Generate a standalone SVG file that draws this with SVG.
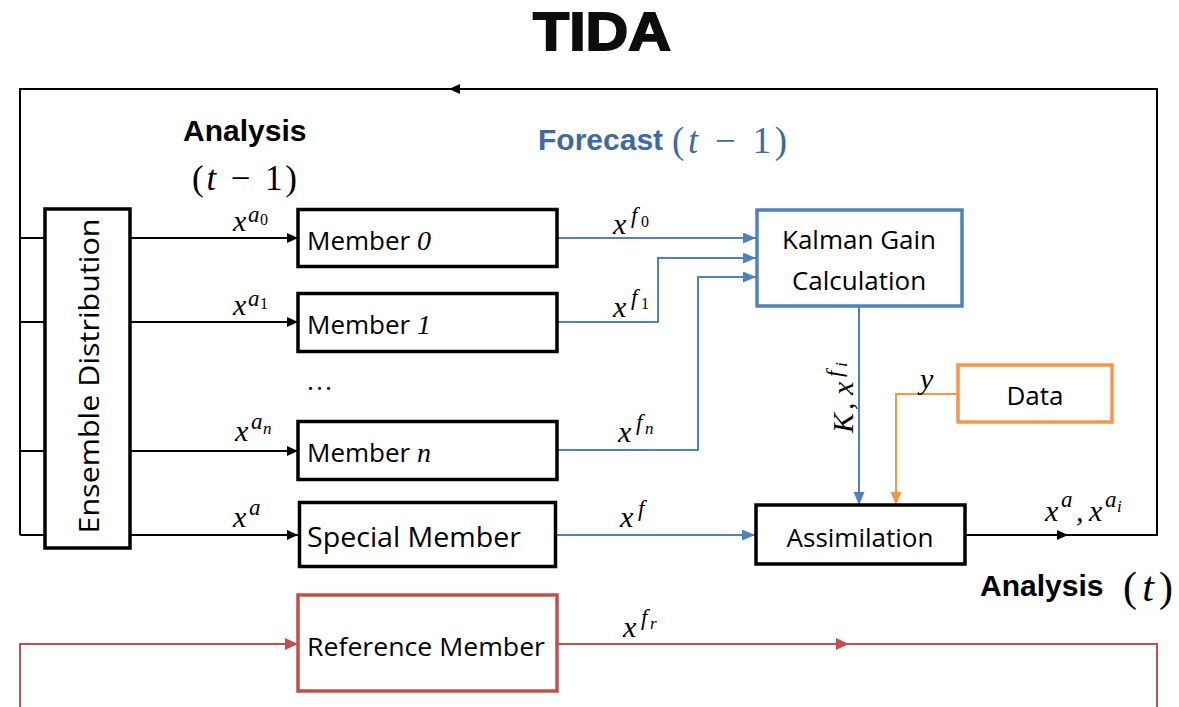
<svg xmlns="http://www.w3.org/2000/svg" width="1179" height="707" viewBox="0 0 1179 707">
<defs>
<style>
.lbl{font-family:"Open Sans","Noto Sans",sans-serif;font-size:26px;fill:#000}
.hd{font-family:"Liberation Sans",Arial,sans-serif;font-weight:bold;font-size:30px;fill:#000}
.m{font-family:"Liberation Serif","Times New Roman",serif;font-style:italic;font-size:30px;fill:#000}
.sup{font-size:23px}
.sub{font-size:16px;font-style:normal}
.subi{font-size:17px}
.box{fill:#fff;stroke:#000;stroke-width:3.5}
.k{fill:none;stroke:#000;stroke-width:2}
.b{fill:none;stroke:#4F81BD;stroke-width:2}
.o{fill:none;stroke:#F79646;stroke-width:2}
.r{fill:none;stroke:#C0504D;stroke-width:2}
</style>
<marker id="ak" markerUnits="userSpaceOnUse" markerWidth="12" markerHeight="12" refX="11" refY="5" orient="auto"><path d="M0,0 L11,5 L0,10 z" fill="#000"/></marker>
<marker id="ab" markerUnits="userSpaceOnUse" markerWidth="14" markerHeight="12" refX="13" refY="5.5" orient="auto"><path d="M0,0 L13,5.5 L0,11 z" fill="#4F81BD"/></marker>
<marker id="ao" markerUnits="userSpaceOnUse" markerWidth="14" markerHeight="12" refX="13" refY="5.5" orient="auto"><path d="M0,0 L13,5.5 L0,11 z" fill="#F79646"/></marker>
<marker id="ar" markerUnits="userSpaceOnUse" markerWidth="14" markerHeight="12" refX="13" refY="6" orient="auto"><path d="M0,0 L13,6 L0,12 z" fill="#C0504D"/></marker>
</defs>
<rect width="1179" height="707" fill="#fff"/>

<text x="602" y="50" text-anchor="middle" textLength="138" lengthAdjust="spacingAndGlyphs" style="font-family:'Liberation Sans',Arial,sans-serif;font-weight:bold;font-size:54px;fill:#0d0d0d;stroke:#0d0d0d;stroke-width:1.8">TIDA</text>

<g id="connectors">
  <!-- feedback loop -->
  <path class="k" d="M966,535 H1068" marker-end="url(#ak)" stroke-width="2.5"/>
  <path class="k" d="M1068,535 H1157 V89 H449" marker-end="url(#ak)" stroke-width="2.5"/>
  <path class="k" d="M449,89 H20 V535" stroke-width="2.5"/>
  <path class="k" d="M20,238 H45 M20,322 H45 M20,451 H45 M20,535 H45"/>
  <!-- ensemble to members -->
  <path class="k" d="M130,238 H298" marker-end="url(#ak)"/>
  <path class="k" d="M130,322 H298" marker-end="url(#ak)"/>
  <path class="k" d="M130,451 H298" marker-end="url(#ak)"/>
  <path class="k" d="M130,535 H298" marker-end="url(#ak)"/>
  <!-- members to Kalman -->
  <path class="b" d="M557,238 H756" marker-end="url(#ab)"/>
  <path class="b" d="M557,322 H658 V258 H756" marker-end="url(#ab)"/>
  <path class="b" d="M557,450 H698 V277 H756" marker-end="url(#ab)"/>
  <path class="b" d="M557,535 H755" marker-end="url(#ab)"/>
  <path class="b" d="M859,307 V505" marker-end="url(#ab)"/>
  <!-- data -->
  <path class="o" d="M957,394 H896 V505" marker-end="url(#ao)"/>
  <!-- reference -->
  <path class="r" d="M20,707 V644 H298" marker-end="url(#ar)"/>
  <path class="r" d="M557,644 H849" marker-end="url(#ar)"/>
  <path class="r" d="M849,644 H1157 V707"/>

  <!-- connector labels -->
  <text class="m" x="233" y="231">x<tspan class="sup" x="248" y="222">a</tspan><tspan class="sub" x="260" y="225">0</tspan></text>
  <text class="m" x="233" y="315">x<tspan class="sup" x="248" y="306">a</tspan><tspan class="sub" x="260" y="309">1</tspan></text>
  <text class="m" x="235" y="441">x<tspan class="sup" x="251" y="429">a</tspan><tspan class="subi" x="263" y="434">n</tspan></text>
  <text class="m" x="233" y="527">x<tspan class="sup" x="249" y="515">a</tspan></text>

  <text class="m" x="613" y="234">x<tspan class="sup" x="631" y="223">f</tspan><tspan class="sub" x="641" y="227">0</tspan></text>
  <text class="m" x="613" y="317">x<tspan class="sup" x="631" y="305">f</tspan><tspan class="sub" x="641" y="309">1</tspan></text>
  <text class="m" x="618" y="442">x<tspan class="sup" x="636" y="430">f</tspan><tspan class="subi" x="645" y="434">n</tspan></text>
  <text class="m" x="620" y="527">x<tspan class="sup" x="638" y="516">f</tspan></text>
  <text class="m" x="623" y="637">x<tspan class="sup" x="641" y="625">f</tspan><tspan class="subi" x="650" y="629">r</tspan></text>

  <text class="m" transform="translate(853,433) rotate(-90)" x="0" y="0">K<tspan x="23">,</tspan><tspan x="38">x</tspan><tspan class="sup" x="56" y="-11">f</tspan><tspan class="subi" x="66" y="-6">i</tspan></text>
  <text class="m" x="920" y="389">y</text>

  <text class="m" x="1045" y="521">x<tspan class="sup" x="1061" y="507">a</tspan><tspan x="1076" y="521">,</tspan><tspan x="1089" y="521">x</tspan><tspan class="sup" x="1105" y="507">a</tspan><tspan class="subi" x="1117" y="512">i</tspan></text>
</g>

<g id="n-titles">
  <text class="hd" x="183" y="141">Analysis</text>
  <text x="192" y="190" style="font-family:'Liberation Serif',serif;font-size:35px" textLength="105" lengthAdjust="spacing">(<tspan font-style="italic">t</tspan> − 1)</text>
  <text class="hd" x="538" y="150" style="fill:#3D6AA3">Forecast</text>
  <text x="672" y="153" style="font-family:'Liberation Serif',serif;font-size:37px;fill:#3D6AA3" textLength="115" lengthAdjust="spacing">(<tspan font-style="italic">t</tspan> − 1)</text>
  <text class="hd" x="980" y="596">Analysis</text>
  <text x="1123" y="601" style="font-family:'Liberation Serif',serif;font-size:42px" textLength="50" lengthAdjust="spacing">(<tspan font-style="italic">t</tspan>)</text>
</g>

<g id="n-ensemble">
  <rect class="box" x="45" y="209" width="85" height="339"/>
  <text class="lbl" transform="translate(99,376) rotate(-90)" text-anchor="middle" textLength="315" lengthAdjust="spacingAndGlyphs" style="font-size:28px">Ensemble Distribution</text>
</g>

<g id="n-member0">
  <rect class="box" x="298" y="209.5" width="259" height="57"/>
  <text class="lbl" x="307" y="250">Member <tspan class="m" style="font-size:28px">0</tspan></text>
</g>
<g id="n-member1">
  <rect class="box" x="298" y="293.5" width="259" height="58"/>
  <text class="lbl" x="307" y="334">Member <tspan class="m" style="font-size:28px">1</tspan></text>
</g>
<g id="n-dots">
  <text x="306" y="390" style="font-family:'Liberation Serif',serif;font-size:27px">…</text>
</g>
<g id="n-membern">
  <rect class="box" x="298" y="421.5" width="259" height="58"/>
  <text class="lbl" x="307" y="462">Member <tspan class="m" style="font-size:28px">n</tspan></text>
</g>
<g id="n-special">
  <rect class="box" x="299.5" y="502.5" width="256" height="64" stroke-width="7"/>
  <text class="lbl" x="307" y="547" style="font-size:28px" textLength="214" lengthAdjust="spacingAndGlyphs">Special Member</text>
</g>
<g id="n-reference">
  <rect class="box" x="298" y="595" width="259" height="96" style="stroke:#C0504D"/>
  <text class="lbl" x="307" y="656" textLength="238" lengthAdjust="spacingAndGlyphs">Reference Member</text>
</g>
<g id="n-kalman">
  <rect class="box" x="757" y="210" width="205" height="96" style="stroke:#4F81BD"/>
  <text class="lbl" x="859" y="249" text-anchor="middle">Kalman Gain</text>
  <text class="lbl" x="859" y="290" text-anchor="middle">Calculation</text>
</g>
<g id="n-data">
  <rect class="box" x="958" y="365" width="154" height="57" style="stroke:#F79646"/>
  <text class="lbl" x="1035" y="405" text-anchor="middle">Data</text>
</g>
<g id="n-assimilation">
  <rect class="box" x="756" y="505" width="209" height="59"/>
  <text class="lbl" x="860" y="547" text-anchor="middle">Assimilation</text>
</g>
</svg>
